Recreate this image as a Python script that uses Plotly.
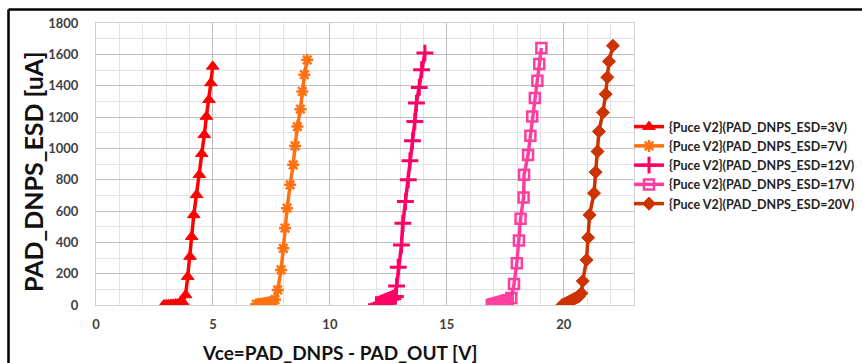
import plotly.graph_objects as go

# ==========================================================
# DATA
# ==========================================================

s3_x = [2.9, 3.0, 3.1, 3.2, 3.3, 3.4, 3.5, 3.6, 3.7, 3.83, 3.92, 4.02, 4.09, 4.18,
        4.3, 4.42, 4.52, 4.63, 4.72, 4.83, 4.91, 4.99]
s3_y = [0, 1, 2, 3, 4, 6, 8, 12, 20, 64, 181, 309, 436, 575,
        703, 831, 965, 1086, 1203, 1310, 1417, 1523]

s7_x = [6.85, 6.95, 7.05, 7.15, 7.25, 7.35, 7.45, 7.55, 7.65, 7.77, 7.91, 8.01, 8.08, 8.17,
        8.3, 8.43, 8.51, 8.61, 8.74, 8.82, 8.91, 9.03]
s7_y = [5, 6, 8, 10, 12, 15, 18, 24, 35, 96, 224, 362, 490, 618,
        767, 895, 1015, 1139, 1250, 1363, 1470, 1565]

s12_x = [11.99, 12.1, 12.2, 12.3, 12.4, 12.5, 12.6, 12.7, 12.8, 12.85, 12.92, 13.06, 13.12, 13.23,
         13.35, 13.42, 13.53, 13.63, 13.7, 13.82, 13.92, 14.06]
s12_y = [2, 6, 12, 18, 24, 30, 36, 42, 55, 121, 241, 383, 522, 660,
         799, 920, 1048, 1171, 1289, 1389, 1502, 1608]

s17_x = [16.92, 17.0, 17.1, 17.2, 17.3, 17.4, 17.5, 17.6, 17.75, 17.87, 17.99, 18.08, 18.15, 18.28,
         18.3, 18.47, 18.57, 18.65, 18.76, 18.87, 18.95, 19.04]
s17_y = [0, 4, 8, 12, 16, 20, 25, 30, 45, 134, 266, 411, 550, 686,
         831, 958, 1080, 1203, 1321, 1431, 1538, 1640]

s20_x = [19.93, 20.05, 20.15, 20.25, 20.35, 20.45, 20.55, 20.64, 20.75, 20.81, 20.97, 21.04, 21.1, 21.29,
         21.36, 21.44, 21.5, 21.67, 21.79, 21.86, 21.93, 22.1]
s20_y = [0, 8, 16, 24, 32, 40, 48, 55, 75, 153, 288, 430, 575, 714,
         848, 980, 1108, 1229, 1346, 1453, 1555, 1655]

names = [
    "{Puce V2}(PAD_DNPS_ESD=3V)",
    "{Puce V2}(PAD_DNPS_ESD=7V)",
    "{Puce V2}(PAD_DNPS_ESD=12V)",
    "{Puce V2}(PAD_DNPS_ESD=17V)",
    "{Puce V2}(PAD_DNPS_ESD=20V)",
]

x_title = "Vce=PAD_DNPS - PAD_OUT [V]"
y_title = "PAD_DNPS_ESD [uA]"

# ==========================================================
# STYLE
# ==========================================================

FONT = "Lato, 'Open Sans', sans-serif"
TEXT = "#404040"

series = [
    (s3_x, s3_y, "#FF0000", "triangle-up", 11, 1),
    (s7_x, s7_y, "#FF7010", "asterisk-open", 10, 2.5),
    (s12_x, s12_y, "#FF0066", "cross-thin-open", 12, 3),
    (s17_x, s17_y, "#FF3FA0", "square-open", 10, 2.5),
    (s20_x, s20_y, "#CC3300", "diamond", 10, 1),
]

fig = go.Figure()

for (xs, ys, color, symbol, size, lw), name in zip(series, names):
    fig.add_trace(go.Scatter(
        x=xs,
        y=ys,
        name=name,
        mode="lines+markers",
        line=dict(color=color, width=3.5),
        marker=dict(symbol=symbol, size=size, color=color,
                    line=dict(color=color, width=lw)),
    ))

# ==========================================================
# LAYOUT
# ==========================================================

W, H = 862, 363
L, R, T, B = 96, 228, 23, 58
pw, ph = W - L - R, H - T - B


def px_x(p):
    return (p - L) / pw


def px_y(p):
    return (H - B - p) / ph


fig.update_layout(
    width=W,
    height=H,
    margin=dict(l=L, r=R, t=T, b=B, autoexpand=False),
    paper_bgcolor="white",
    plot_bgcolor="white",
    font=dict(family=FONT, color=TEXT),
    legend=dict(
        x=px_x(629),
        y=px_y(112),
        xanchor="left",
        yanchor="top",
        font=dict(family=FONT, size=12.5, color="#222222", weight="bold"),
        bgcolor="rgba(0,0,0,0)",
        tracegroupgap=0,
        itemwidth=30,
    ),
)

fig.update_xaxes(
    range=[0, 23],
    dtick=5,
    showgrid=True,
    gridcolor="#BFBFBF",
    gridwidth=1,
    minor=dict(dtick=1, showgrid=True, gridcolor="#E3E3E3", gridwidth=1),
    showline=True,
    linecolor="#D0D0D0",
    mirror=True,
    zeroline=False,
    ticks="",
    ticklabelstandoff=7,
    tickfont=dict(size=13, color=TEXT, weight="bold"),
)

fig.update_yaxes(
    range=[0, 1800],
    dtick=200,
    showgrid=True,
    gridcolor="#BFBFBF",
    gridwidth=1,
    minor=dict(dtick=100, showgrid=True, gridcolor="#E3E3E3", gridwidth=1),
    showline=True,
    linecolor="#D0D0D0",
    mirror=True,
    zeroline=False,
    ticks="",
    ticklabelstandoff=14,
    tickfont=dict(size=13, color=TEXT, weight="bold"),
)

# axis titles
fig.add_annotation(
    text=x_title, xref="paper", yref="paper",
    x=px_x(340), y=px_y(352), xanchor="center", yanchor="middle",
    showarrow=False, font=dict(size=19, color="#111111", weight="bold"),
)
fig.add_annotation(
    text=y_title, xref="paper", yref="paper", textangle=-90,
    x=px_x(33), y=px_y(172), xanchor="center", yanchor="middle",
    showarrow=False, font=dict(size=25, color="#111111", weight="bold"),
)

# chart frame (top and left edges visible in the picture)
fig.add_shape(type="line", xref="paper", yref="paper",
              x0=px_x(8.5), x1=px_x(W + 5), y0=px_y(9.5), y1=px_y(9.5),
              line=dict(color="black", width=2.5))
fig.add_shape(type="line", xref="paper", yref="paper",
              x0=px_x(8.5), x1=px_x(8.5), y0=px_y(9.5), y1=px_y(H + 10),
              line=dict(color="black", width=2.5))

fig.write_html(
    "out.html",
    config={"displayModeBar": False},
    post_script="document.body.style.margin='0';",
)
